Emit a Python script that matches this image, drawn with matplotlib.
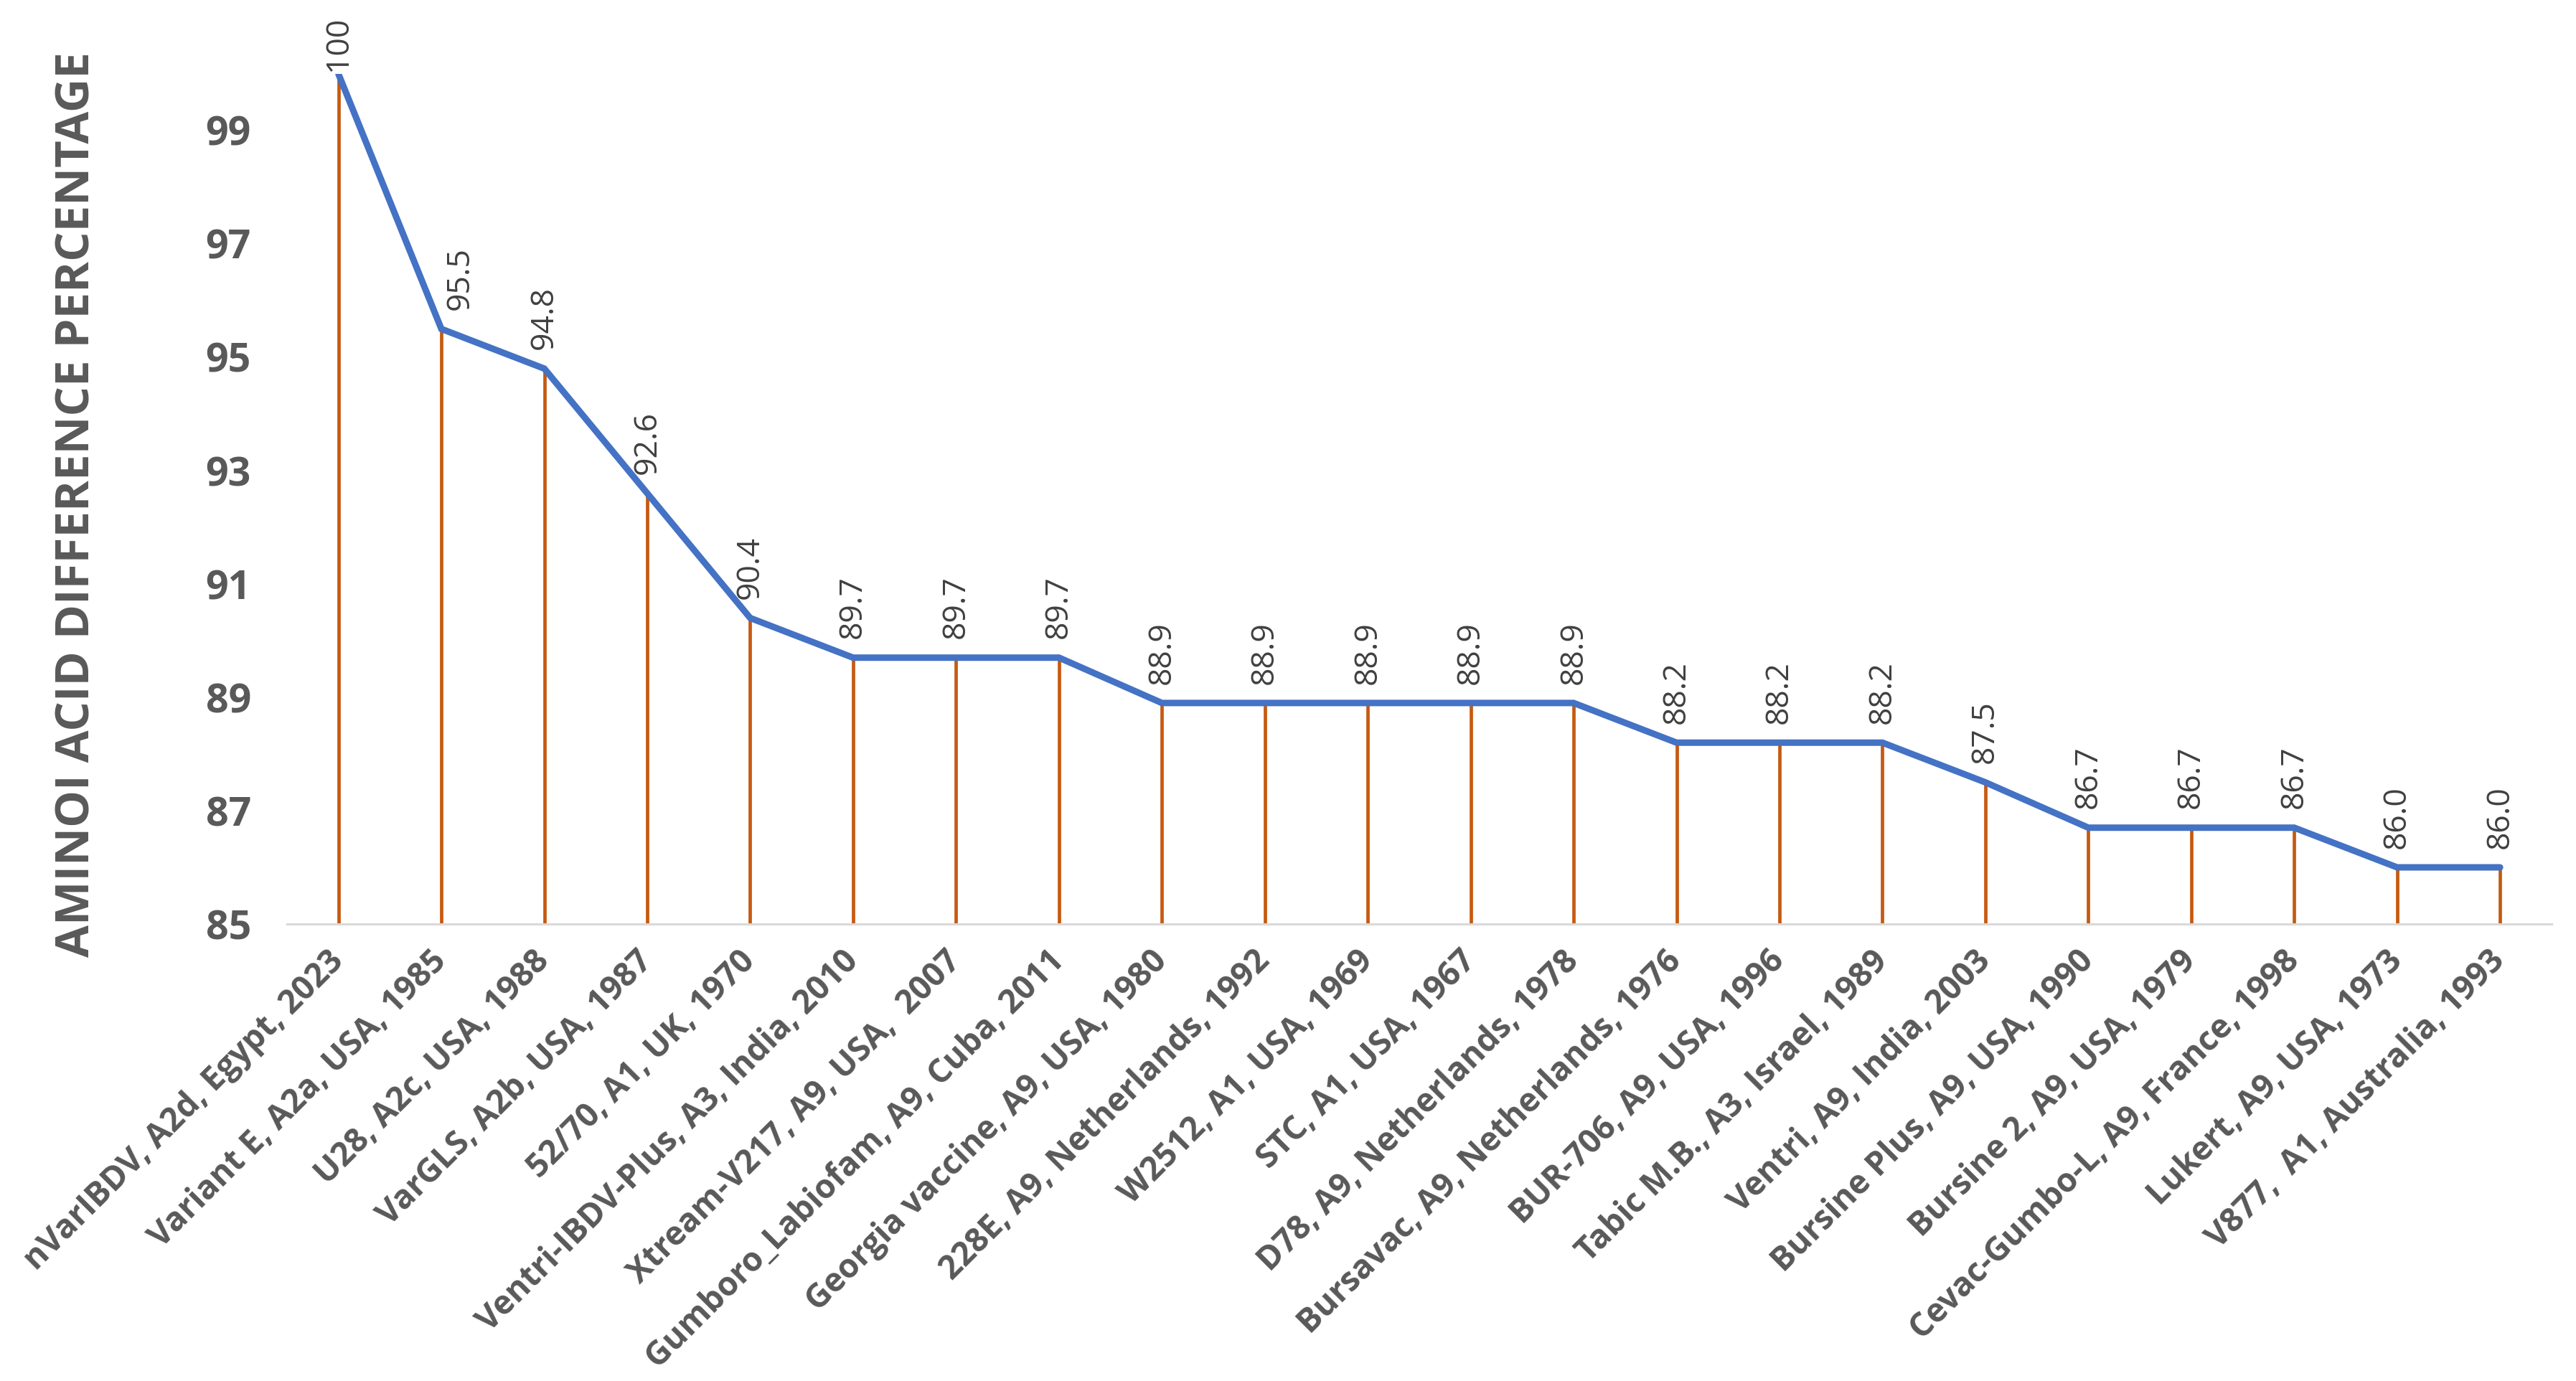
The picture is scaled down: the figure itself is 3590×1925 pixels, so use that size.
import matplotlib
matplotlib.use('Agg')
import matplotlib.pyplot as plt
import numpy as np

# strains (x categories) and their identity percentages
strains = ['nVarIBDV, A2d, Egypt, 2023', 'Variant E, A2a, USA, 1985',
           'U28, A2c, USA, 1988', 'VarGLS, A2b, USA, 1987',
           '52/70, A1, UK, 1970', 'Ventri-IBDV-Plus, A3, India, 2010',
           'Xtream-V217, A9, USA,  2007', 'Gumboro_Labiofam, A9, Cuba, 2011',
           'Georgia vaccine, A9, USA, 1980', '228E, A9, Netherlands, 1992',
           'W2512, A1, USA, 1969', 'STC, A1, USA, 1967',
           'D78, A9, Netherlands, 1978', 'Bursavac, A9, Netherlands, 1976',
           'BUR-706, A9, USA, 1996', 'Tabic M.B., A3, Israel, 1989',
           'Ventri, A9, India, 2003', 'Bursine Plus, A9, USA, 1990',
           'Bursine 2, A9, USA, 1979', 'Cevac-Gumbo-L, A9, France, 1998',
           'Lukert, A9, USA, 1973', 'V877,  A1, Australia, 1993']
values = [100, 95.5, 94.8, 92.6, 90.4, 89.7, 89.7, 89.7, 88.9, 88.9, 88.9,
          88.9, 88.9, 88.2, 88.2, 88.2, 87.5, 86.7, 86.7, 86.7, 86.0, 86.0]
yticks = [85, 87, 89, 91, 93, 95, 97, 99]

gray = '#595959'
x = np.arange(len(strains))

fig = plt.figure(figsize=(35.9, 19.25), dpi=100)
ax = fig.add_axes([0.1114, 0.3309, 0.8791, 0.6156])

# drop lines
ax.vlines(x, 85, values, color='#C55A11', lw=3.4, zorder=2)
ax.plot(x, values, color='#4472C4', lw=6.5, solid_capstyle='round',
        solid_joinstyle='miter', zorder=3)

for i, v in enumerate(values):
    txt = '100' if v == 100 else '{:.1f}'.format(v)
    dy = 3 if i == 0 else 19
    dx = 19 if i == 1 else 0
    ax.annotate(txt, (i, v), xytext=(dx, dy), textcoords='offset points',
                rotation=90, ha='center', va='bottom', fontsize=32,
                color='#404040', family='Open Sans', annotation_clip=False)

ax.set_xlim(-0.5, len(strains) - 0.5)
ax.set_ylim(85, 100)
ax.set_yticks(yticks)
ax.set_yticklabels([str(t) for t in yticks], fontsize=40, fontweight='bold',
                   color=gray, family='Open Sans')
ax.set_xticks(x)
ax.set_xticklabels(strains, rotation=45, ha='right', va='center',
                   rotation_mode='anchor', fontsize=33, fontweight='bold',
                   color=gray, family='Open Sans')
ax.tick_params(axis='both', length=0)
ax.tick_params(axis='y', pad=36)
ax.tick_params(axis='x', pad=32)

for s in ['top', 'right', 'left']:
    ax.spines[s].set_visible(False)
ax.spines['bottom'].set_color('#D9D9D9')
ax.spines['bottom'].set_linewidth(2.2)

fig.text(0.0300, 0.635, 'AMINOI ACID DIFFERENCE PERCENTAGE', rotation=90,
         ha='center', va='center', fontsize=47, fontweight='bold',
         color=gray, family='Open Sans')

plt.savefig('out.png', dpi=100)
